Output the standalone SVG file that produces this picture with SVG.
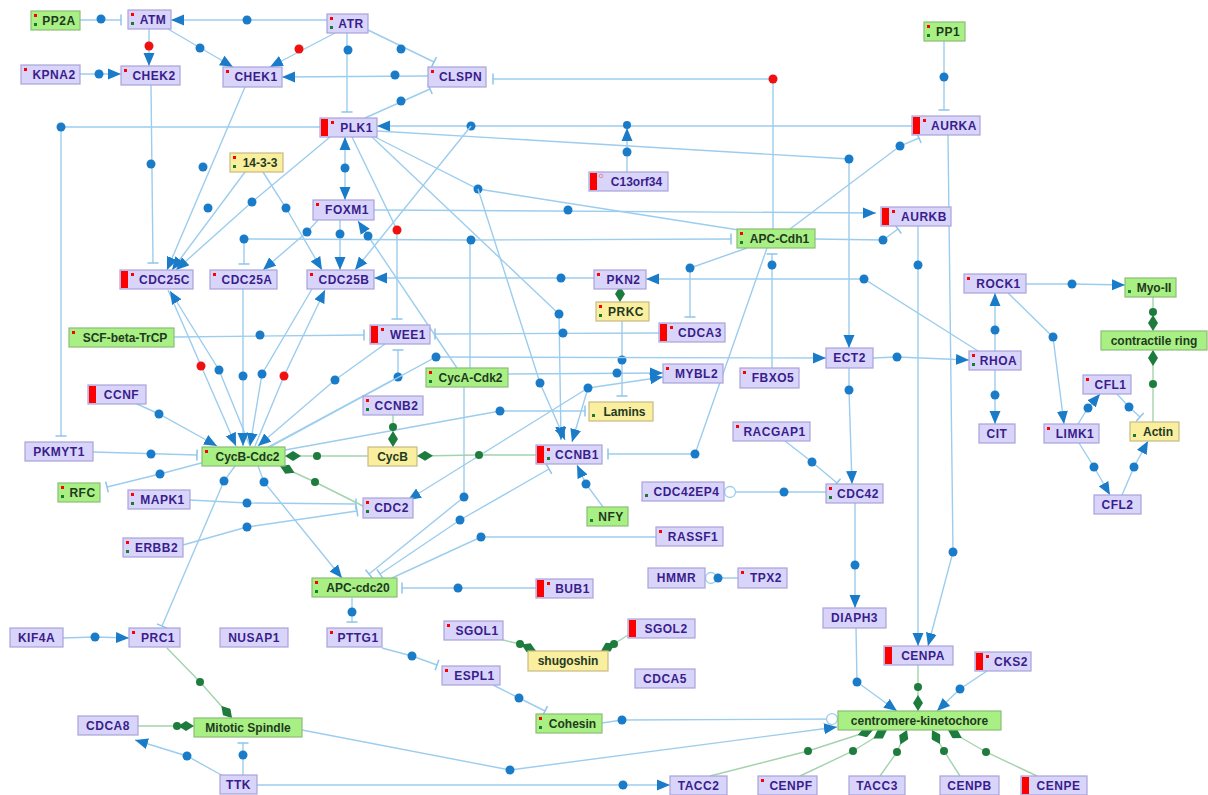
<svg xmlns="http://www.w3.org/2000/svg" width="1208" height="795" viewBox="0 0 1208 795">
<style>
text{font-family:"Liberation Sans",Arial,sans-serif;font-weight:bold;font-size:12px;text-anchor:middle}
text.u{letter-spacing:0.5px}
.p rect.b{fill:#d9d5fa;stroke:#a9a2db;stroke-width:1.2}
.g rect.b{fill:#a8ef84;stroke:#8cbd78;stroke-width:1.2}
.y rect.b{fill:#faee9f;stroke:#c6ba86;stroke-width:1.2}
.p text{fill:#3a1d8c}
.g text,.y text{fill:#1f3a1f}
.bar{fill:#f00}
.mr{fill:#f00}
.mg{fill:#1a7a30}
.e{fill:none;stroke:#9ccdee;stroke-width:1.4}
.ge{fill:none;stroke:#a3d3ad;stroke-width:1.4}
.d{fill:#1a7cc9}
.rd{fill:#f01010}
.gd{fill:#1e7d3c}
</style>
<defs>
<marker id="a" viewBox="0 -6 13 12" refX="13" refY="0" markerWidth="13" markerHeight="12" markerUnits="userSpaceOnUse" orient="auto-start-reverse"><path d="M0,-5.5 L13,0 L0,5.5 z" fill="#1a7cc9"/></marker>
<marker id="t" viewBox="-2 -6 4 12" refX="0" refY="0" markerWidth="4" markerHeight="12" markerUnits="userSpaceOnUse" orient="auto"><path d="M0,-5.5 V5.5" stroke="#8cc4ea" stroke-width="1.5"/></marker>
<marker id="dm" viewBox="0 -5 16 10" refX="16" refY="0" markerWidth="16" markerHeight="10" markerUnits="userSpaceOnUse" orient="auto"><path d="M0,0 L8,-5 L16,0 L8,5 z" fill="#1e7b3e"/></marker>
<marker id="oc" viewBox="-13 -7 14 14" refX="0" refY="0" markerWidth="14" markerHeight="14" markerUnits="userSpaceOnUse" orient="auto"><circle cx="-6" cy="0" r="5.5" fill="#fff" stroke="#9ccdee" stroke-width="1.3"/></marker>
</defs>
<rect width="1208" height="795" fill="#fff"/>

<g id="connectors">
<path class="e" d="M80,20 L121,20" marker-end="url(#t)"/><circle class="d" cx="101" cy="19" r="4.5"/>
<path class="e" d="M327,20 L171,20" marker-end="url(#a)"/><circle class="d" cx="247" cy="20" r="4.5"/>
<path class="e" d="M149,29 L149,66" marker-end="url(#a)"/><circle class="rd" cx="149" cy="46" r="4.5"/>
<path class="e" d="M80,74 L121,74" marker-end="url(#a)"/><circle class="d" cx="99" cy="74" r="4.5"/>
<path class="e" d="M168,29 L233,67" marker-end="url(#a)"/><circle class="d" cx="200" cy="48" r="4.5"/>
<path class="e" d="M335,33 L270,67" marker-end="url(#a)"/><circle class="rd" cx="299" cy="49" r="4.5"/>
<path class="e" d="M428,76 L282,77" marker-end="url(#a)"/><circle class="d" cx="395" cy="75" r="4.5"/>
<path class="e" d="M347,33 L347,112" marker-end="url(#t)"/><circle class="d" cx="348" cy="50" r="4.5"/>
<path class="e" d="M368,30 L434,62" marker-end="url(#t)"/><circle class="d" cx="401" cy="49" r="4.5"/>
<path class="e" d="M365,118 L430,89" marker-end="url(#t)"/><circle class="d" cx="401" cy="101" r="4.5"/>
<path class="e" d="M773,229 L773,79 L493,79" marker-end="url(#t)"/><circle class="rd" cx="773" cy="79" r="4.5"/>
<path class="e" d="M912,126 L377,126" marker-end="url(#a)"/><circle class="d" cx="471" cy="126" r="4.5"/>
<path class="e" d="M627,172 L627,128" marker-end="url(#a)"/><circle class="d" cx="627" cy="152" r="4.5"/><circle class="d" cx="627" cy="125" r="4"/>
<path class="e" d="M377,131 L849,159 L849,348" marker-end="url(#a)"/><circle class="d" cx="849" cy="159" r="4.5"/>
<path class="e" d="M320,127 L61,127 L61,436" marker-end="url(#t)"/><circle class="d" cx="61" cy="127" r="4.5"/>
<path class="e" d="M345,137 L345,200" marker-start="url(#a)" marker-end="url(#a)"/><circle class="d" cx="345" cy="168" r="4.5"/>
<path class="e" d="M151,85 L153,263" marker-end="url(#t)"/><circle class="d" cx="151" cy="164" r="4.5"/>
<path class="e" d="M245,87 L167,270" marker-end="url(#a)"/><circle class="d" cx="203" cy="167" r="4.5"/>
<path class="e" d="M245,172 L172,270" marker-end="url(#a)"/><circle class="d" cx="208" cy="208" r="4.5"/>
<path class="e" d="M330,137 L252,202 L176,270" marker-end="url(#a)"/><circle class="d" cx="252" cy="202" r="4.5"/>
<path class="e" d="M263,172 L286,208 L322,270" marker-end="url(#a)"/><circle class="d" cx="286" cy="208" r="4.5"/>
<path class="e" d="M318,220 L307,232 L263,270" marker-end="url(#a)"/><circle class="d" cx="307" cy="232" r="4.5"/>
<path class="e" d="M340,220 L340,270" marker-end="url(#a)"/><circle class="d" cx="340" cy="234" r="4.5"/>
<path class="e" d="M471,126 L355,270" marker-end="url(#a)"/>
<path class="e" d="M471,240 L244,239 L244,264" marker-end="url(#t)"/><circle class="d" cx="244" cy="239" r="4.5"/>
<path class="e" d="M470,368 L470,240 L731,239" marker-end="url(#t)"/><circle class="d" cx="471" cy="240" r="4.5"/>
<path class="e" d="M457,368 L358,221" marker-end="url(#a)"/><circle class="d" cx="368" cy="236" r="4.5"/>
<path class="e" d="M352,137 L397,230 L397,319" marker-end="url(#t)"/><circle class="rd" cx="397" cy="230" r="4.5"/>
<path class="e" d="M372,137 L559,314 L561,440" marker-end="url(#a)"/><circle class="d" cx="559" cy="314" r="4.5"/>
<path class="e" d="M375,137 L478,189 L745,231"/><circle class="d" cx="478" cy="189" r="4.5"/>
<path class="e" d="M478,189 L540,383 L565,440" marker-end="url(#a)"/><circle class="d" cx="540" cy="383" r="4.5"/>
<path class="e" d="M374,210 L876,213" marker-end="url(#a)"/><circle class="d" cx="568" cy="210" r="4.5"/>
<path class="e" d="M815,239 L883,240 L898,229" marker-end="url(#t)"/><circle class="d" cx="883" cy="240" r="4.5"/>
<path class="e" d="M790,229 L900,146 L919,138" marker-end="url(#t)"/><circle class="d" cx="900" cy="146" r="4.5"/>
<path class="e" d="M944,41 L944,110" marker-end="url(#t)"/><circle class="d" cx="944" cy="77" r="4.5"/>
<path class="e" d="M948,135 L953,552 L928,646" marker-end="url(#a)"/><circle class="d" cx="953" cy="552" r="4.5"/>
<path class="e" d="M918,226 L918,646" marker-end="url(#a)"/><circle class="d" cx="918" cy="265" r="4.5"/>
<path class="e" d="M747,248 L690,268 L690,317" marker-end="url(#t)"/><circle class="d" cx="690" cy="268" r="4.5"/>
<path class="e" d="M772,368 L772,254" marker-end="url(#t)"/><circle class="d" cx="772" cy="265" r="4.5"/>
<path class="e" d="M767,248 L695,454 L608,454" marker-end="url(#t)"/><circle class="d" cx="695" cy="454" r="4.5"/>
<path class="e" d="M594,278 L374,278" marker-end="url(#a)"/><circle class="d" cx="561" cy="278" r="4.5"/>
<path class="e" d="M978,351 L864,279 L646,279" marker-end="url(#a)"/><circle class="d" cx="864" cy="279" r="4.5"/>
<path class="e" d="M622,320 L622,396" marker-end="url(#t)"/><circle class="d" cx="622" cy="360" r="4.5"/>
<path class="e" d="M174,337 L364,335" marker-end="url(#t)"/><circle class="d" cx="260" cy="335" r="4.5"/>
<path class="e" d="M659,333 L435,334" marker-end="url(#t)"/><circle class="d" cx="563" cy="333" r="4.5"/>
<path class="e" d="M385,344 L335,380 L258,446" marker-end="url(#a)"/><circle class="d" cx="335" cy="380" r="4.5"/>
<path class="e" d="M268,447 L398,377 L398,350" marker-end="url(#t)"/><circle class="d" cx="398" cy="377" r="4.5"/>
<path class="e" d="M168,290 L236,446" marker-end="url(#a)"/><circle class="rd" cx="201" cy="366" r="4.5"/>
<path class="e" d="M250,446 L219,370 L170,291" marker-end="url(#a)"/><circle class="d" cx="219" cy="370" r="4.5"/>
<path class="e" d="M243,289 L243,446" marker-end="url(#a)"/><circle class="d" cx="243" cy="376" r="4.5"/>
<path class="e" d="M255,446 L284,376 L325,290" marker-end="url(#a)"/><circle class="rd" cx="284" cy="376" r="4.5"/>
<path class="e" d="M312,289 L262,374 L250,446" marker-end="url(#a)"/><circle class="d" cx="262" cy="374" r="4.5"/>
<path class="e" d="M135,403 L159,414 L217,446" marker-end="url(#a)"/><circle class="d" cx="159" cy="414" r="4.5"/>
<path class="e" d="M93,452 L197,455" marker-end="url(#t)"/><circle class="d" cx="151" cy="454" r="4.5"/>
<path class="e" d="M205,462 L160,474 L107,487" marker-end="url(#t)"/><circle class="d" cx="160" cy="474" r="4.5"/>
<path class="e" d="M190,500 L247,503 L356,504" marker-end="url(#t)"/><circle class="d" cx="247" cy="503" r="4.5"/>
<path class="e" d="M183,545 L247,527 L357,511" marker-end="url(#t)"/><circle class="d" cx="247" cy="527" r="4.5"/>
<path class="e" d="M270,447 L436,357 L826,358" marker-end="url(#a)"/><circle class="d" cx="436" cy="357" r="4.5"/>
<path class="e" d="M285,450 L500,411 L585,411" marker-end="url(#t)"/><circle class="d" cx="500" cy="411" r="4.5"/>
<path class="e" d="M508,374 L663,373" marker-end="url(#a)"/><circle class="d" cx="617" cy="373" r="4.5"/>
<path class="e" d="M588,388 L663,377" marker-end="url(#a)"/>
<path class="e" d="M588,388 L408,500" marker-end="url(#a)"/>
<path class="e" d="M588,388 L572,442" marker-end="url(#a)"/><circle class="d" cx="588" cy="388" r="4.5"/>
<path class="e" d="M464,387 L464,497 L369,574" marker-end="url(#t)"/><circle class="d" cx="464" cy="497" r="4.5"/>
<path class="e" d="M549,469 L460,520 L380,574" marker-start="url(#t)" marker-end="url(#t)"/><circle class="d" cx="460" cy="520" r="4.5"/>
<path class="e" d="M656,537 L481,537 L392,578"/><circle class="d" cx="481" cy="537" r="4.5"/>
<path class="e" d="M258,466 L264,482 L342,578" marker-end="url(#a)"/><circle class="d" cx="264" cy="482" r="4.5"/>
<path class="e" d="M235,466 L224,481 L162,626" marker-end="url(#t)"/><circle class="d" cx="224" cy="481" r="4.5"/>
<path class="e" d="M603,507 L586,484 L577,465" marker-end="url(#a)"/><circle class="d" cx="586" cy="484" r="4.5"/>
<path class="e" d="M536,588 L402,588" marker-end="url(#t)"/><circle class="d" cx="458" cy="588" r="4.5"/>
<path class="e" d="M352,598 L352,622" marker-end="url(#t)"/><circle class="d" cx="352" cy="612" r="4.5"/>
<path class="e" d="M382,648 L412,656 L437,665" marker-end="url(#t)"/><circle class="d" cx="412" cy="656" r="4.5"/>
<path class="e" d="M493,685 L519,698 L545,711" marker-end="url(#t)"/><circle class="d" cx="519" cy="698" r="4.5"/>
<path class="e" d="M602,723 L622,720 L838,719" marker-end="url(#oc)"/><circle class="d" cx="622" cy="720" r="4.5"/>
<path class="e" d="M302,730 L510,770 L837,727" marker-end="url(#a)"/><circle class="d" cx="510" cy="770" r="4.5"/>
<path class="e" d="M257,785 L670,785" marker-end="url(#a)"/><circle class="d" cx="623" cy="785" r="4.5"/>
<path class="e" d="M225,777 L187,756 L135,740" marker-end="url(#a)"/><circle class="d" cx="187" cy="756" r="4.5"/>
<path class="e" d="M243,775 L243,743" marker-end="url(#t)"/><circle class="d" cx="243" cy="755" r="4.5"/>
<path class="e" d="M63,638 L95,637 L129,638" marker-end="url(#a)"/><circle class="d" cx="95" cy="637" r="4.5"/>
<path class="e" d="M738,578 L705,578" marker-end="url(#oc)"/><circle class="d" cx="718" cy="578" r="4.5"/>
<path class="e" d="M826,492 L724,492" marker-end="url(#oc)"/><circle class="d" cx="784" cy="492" r="4.5"/>
<path class="e" d="M785,441 L812,462 L837,483" marker-end="url(#t)"/><circle class="d" cx="812" cy="462" r="4.5"/>
<path class="e" d="M849,368 L849,390 L852,484" marker-end="url(#a)"/><circle class="d" cx="849" cy="390" r="4.5"/>
<path class="e" d="M873,358 L897,357 L969,360" marker-end="url(#a)"/><circle class="d" cx="897" cy="357" r="4.5"/>
<path class="e" d="M855,503 L855,608" marker-end="url(#a)"/><circle class="d" cx="855" cy="565" r="4.5"/>
<path class="e" d="M856,628 L857,682 L897,711" marker-end="url(#a)"/><circle class="d" cx="857" cy="682" r="4.5"/>
<path class="e" d="M987,671 L960,689 L937,711" marker-end="url(#a)"/><circle class="d" cx="960" cy="689" r="4.5"/>
<path class="e" d="M995,351 L995,293" marker-end="url(#a)"/><circle class="d" cx="995" cy="330" r="4.5"/>
<path class="e" d="M995,370 L995,424" marker-end="url(#a)"/><circle class="d" cx="995" cy="395" r="4.5"/>
<path class="e" d="M1026,284 L1072,284 L1125,285" marker-end="url(#a)"/><circle class="d" cx="1072" cy="284" r="4.5"/>
<path class="e" d="M1008,293 L1053,337 L1064,424" marker-end="url(#a)"/><circle class="d" cx="1053" cy="337" r="4.5"/>
<path class="e" d="M1078,424 L1088,408 L1100,394" marker-end="url(#a)"/><circle class="d" cx="1088" cy="408" r="4.5"/>
<path class="e" d="M1079,443 L1094,467 L1110,495" marker-end="url(#a)"/><circle class="d" cx="1094" cy="467" r="4.5"/>
<path class="e" d="M1122,495 L1134,467 L1148,441" marker-end="url(#a)"/><circle class="d" cx="1134" cy="467" r="4.5"/>
<path class="e" d="M1117,394 L1129,407 L1140,417" marker-end="url(#t)"/><circle class="d" cx="1129" cy="407" r="4.5"/>
<path class="ge" d="M620,288 L620,302" marker-end="url(#dm)"/>
<path class="ge" d="M368,456 L285,456" marker-end="url(#dm)"/><circle class="gd" cx="317" cy="456" r="4"/>
<path class="ge" d="M363,506 L315,482 L280,466" marker-end="url(#dm)"/><circle class="gd" cx="315" cy="482" r="4"/>
<path class="ge" d="M536,455 L479,455 L417,456" marker-end="url(#dm)"/><circle class="gd" cx="479" cy="455" r="4"/>
<path class="ge" d="M393,415 L393,447" marker-end="url(#dm)"/><circle class="gd" cx="393" cy="427" r="4"/>
<path class="ge" d="M503,640 L520,644 L536,651" marker-end="url(#dm)"/><circle class="gd" cx="520" cy="644" r="4"/>
<path class="ge" d="M628,635 L614,644 L601,651" marker-end="url(#dm)"/><circle class="gd" cx="614" cy="644" r="4"/>
<path class="ge" d="M138,726 L194,726" marker-end="url(#dm)"/><circle class="gd" cx="177" cy="726" r="4"/>
<path class="ge" d="M167,648 L200,682 L232,718" marker-end="url(#dm)"/><circle class="gd" cx="200" cy="682" r="4"/>
<path class="ge" d="M918,664 L918,711" marker-end="url(#dm)"/><circle class="gd" cx="918" cy="687" r="4"/>
<path class="ge" d="M710,776 L808,751 L873,730" marker-end="url(#dm)"/><circle class="gd" cx="808" cy="751" r="4"/>
<path class="ge" d="M800,776 L853,751 L887,730" marker-end="url(#dm)"/><circle class="gd" cx="853" cy="751" r="4"/>
<path class="ge" d="M880,776 L897,752 L907,730" marker-end="url(#dm)"/><circle class="gd" cx="897" cy="752" r="4"/>
<path class="ge" d="M960,776 L944,751 L932,730" marker-end="url(#dm)"/><circle class="gd" cx="944" cy="751" r="4"/>
<path class="ge" d="M1037,776 L986,752 L948,730" marker-end="url(#dm)"/><circle class="gd" cx="986" cy="752" r="4"/>
<path class="ge" d="M1153,422 L1153,350" marker-end="url(#dm)"/><circle class="gd" cx="1153" cy="384" r="4"/>
<path class="ge" d="M1153,297 L1153,331" marker-end="url(#dm)"/><circle class="gd" cx="1153" cy="312" r="4"/>
</g>

<g id="PP2A" class="g"><rect class="b" x="31" y="11" width="49" height="19"/><rect class="mr" x="34" y="14" width="3" height="3"/><rect class="mg" x="34" y="23" width="3" height="3"/><text class="u" x="59" y="24.5">PP2A</text></g>
<g id="ATM" class="p"><rect class="b" x="128" y="10" width="43" height="19"/><rect class="mr" x="131" y="13" width="3" height="3"/><rect class="mg" x="131" y="22" width="3" height="3"/><text class="u" x="153" y="23.5">ATM</text></g>
<g id="ATR" class="p"><rect class="b" x="327" y="14" width="41" height="19"/><rect class="mr" x="330" y="17" width="3" height="3"/><rect class="mg" x="330" y="26" width="3" height="3"/><text class="u" x="351" y="27.5">ATR</text></g>
<g id="KPNA2" class="p"><rect class="b" x="21" y="65" width="59" height="19"/><rect class="mr" x="24" y="68" width="3" height="3"/><text class="u" x="54" y="78.5">KPNA2</text></g>
<g id="CHEK2" class="p"><rect class="b" x="121" y="66" width="59" height="19"/><rect class="mr" x="124" y="69" width="3" height="3"/><text class="u" x="154" y="79.5">CHEK2</text></g>
<g id="CHEK1" class="p"><rect class="b" x="223" y="67" width="59" height="20"/><rect class="mr" x="226" y="70" width="3" height="3"/><text class="u" x="256" y="81">CHEK1</text></g>
<g id="CLSPN" class="p"><rect class="b" x="428" y="67" width="58" height="20"/><rect class="mr" x="431" y="70" width="3" height="3"/><text class="u" x="460.5" y="81">CLSPN</text></g>
<g id="PP1" class="g"><rect class="b" x="924" y="22" width="41" height="19"/><rect class="mr" x="927" y="25" width="3" height="3"/><rect class="mg" x="927" y="34" width="3" height="3"/><text class="u" x="948" y="35.5">PP1</text></g>
<g id="PLK1" class="p"><rect class="b" x="320" y="118" width="57" height="19"/><rect class="bar" x="321" y="119" width="7" height="17"/><rect class="mr" x="331" y="121" width="3" height="3"/><text class="u" x="356.5" y="131.5">PLK1</text></g>
<g id="AURKA" class="p"><rect class="b" x="912" y="116" width="68" height="19"/><rect class="bar" x="913" y="117" width="7" height="17"/><rect class="mr" x="923" y="119" width="3" height="3"/><text class="u" x="954" y="129.5">AURKA</text></g>
<g id="n14-3-3" class="y"><rect class="b" x="230" y="153" width="53" height="19"/><rect class="mr" x="233" y="156" width="3" height="3"/><rect class="mg" x="233" y="165" width="3" height="3"/><text x="260" y="166.5">14-3-3</text></g>
<g id="C13orf34" class="p"><rect class="b" x="589" y="172" width="79" height="19"/><rect class="bar" x="590" y="173" width="7" height="17"/><circle cx="601" cy="176" r="1.8" fill="none" stroke="#f08080" stroke-width="0.9"/><text x="636.5" y="185.5">C13orf34</text></g>
<g id="FOXM1" class="p"><rect class="b" x="313" y="200" width="61" height="20"/><rect class="mr" x="316" y="203" width="3" height="3"/><text class="u" x="347" y="214">FOXM1</text></g>
<g id="AURKB" class="p"><rect class="b" x="881" y="207" width="70" height="19"/><rect class="bar" x="882" y="208" width="7" height="17"/><rect class="mr" x="892" y="210" width="3" height="3"/><text class="u" x="924" y="220.5">AURKB</text></g>
<g id="APC-Cdh1" class="g"><rect class="b" x="737" y="229" width="78" height="19"/><rect class="mr" x="740" y="232" width="3" height="3"/><rect class="mg" x="740" y="241" width="3" height="3"/><text x="779.5" y="242.5">APC-Cdh1</text></g>
<g id="CDC25C" class="p"><rect class="b" x="120" y="270" width="73" height="19"/><rect class="bar" x="121" y="271" width="7" height="17"/><rect class="mr" x="131" y="273" width="3" height="3"/><text class="u" x="164.5" y="283.5">CDC25C</text></g>
<g id="CDC25A" class="p"><rect class="b" x="210" y="270" width="67" height="19"/><rect class="mr" x="213" y="273" width="3" height="3"/><text class="u" x="247" y="283.5">CDC25A</text></g>
<g id="CDC25B" class="p"><rect class="b" x="307" y="270" width="67" height="19"/><rect class="mr" x="310" y="273" width="3" height="3"/><text class="u" x="344" y="283.5">CDC25B</text></g>
<g id="PKN2" class="p"><rect class="b" x="594" y="270" width="52" height="19"/><rect class="mr" x="597" y="273" width="3" height="3"/><text class="u" x="623.5" y="283.5">PKN2</text></g>
<g id="ROCK1" class="p"><rect class="b" x="964" y="274" width="62" height="19"/><rect class="mr" x="967" y="277" width="3" height="3"/><text class="u" x="998.5" y="287.5">ROCK1</text></g>
<g id="Myo-II" class="g"><rect class="b" x="1125" y="278" width="51" height="19"/><rect class="mg" x="1128" y="290" width="3" height="3"/><text x="1154" y="291.5">Myo-II</text></g>
<g id="PRKC" class="y"><rect class="b" x="596" y="302" width="53" height="19"/><rect class="mr" x="599" y="305" width="3" height="3"/><rect class="mg" x="599" y="314" width="3" height="3"/><text class="u" x="626" y="315.5">PRKC</text></g>
<g id="CDCA3" class="p"><rect class="b" x="659" y="323" width="66" height="19"/><rect class="bar" x="660" y="324" width="7" height="17"/><rect class="mr" x="670" y="326" width="3" height="3"/><text class="u" x="700" y="336.5">CDCA3</text></g>
<g id="SCF-beta-TrCP" class="g"><rect class="b" x="69" y="328" width="105" height="19"/><rect class="mr" x="72" y="331" width="3" height="3"/><text x="125" y="341.5">SCF-beta-TrCP</text></g>
<g id="WEE1" class="p"><rect class="b" x="370" y="325" width="60" height="19"/><rect class="bar" x="371" y="326" width="7" height="17"/><rect class="mr" x="381" y="328" width="3" height="3"/><text class="u" x="408" y="338.5">WEE1</text></g>
<g id="contractile-ring" class="g"><rect class="b" x="1101" y="331" width="106" height="19"/><text x="1154" y="344.5">contractile ring</text></g>
<g id="ECT2" class="p"><rect class="b" x="826" y="348" width="47" height="20"/><text class="u" x="849.5" y="362">ECT2</text></g>
<g id="RHOA" class="p"><rect class="b" x="969" y="351" width="52" height="19"/><rect class="mr" x="972" y="354" width="3" height="3"/><rect class="mg" x="972" y="363" width="3" height="3"/><text class="u" x="998.5" y="364.5">RHOA</text></g>
<g id="CycA-Cdk2" class="g"><rect class="b" x="426" y="368" width="82" height="19"/><rect class="mr" x="429" y="371" width="3" height="3"/><rect class="mg" x="429" y="380" width="3" height="3"/><text x="470.5" y="381.5">CycA-Cdk2</text></g>
<g id="MYBL2" class="p"><rect class="b" x="663" y="364" width="60" height="19"/><rect class="mr" x="666" y="367" width="3" height="3"/><text class="u" x="696.5" y="377.5">MYBL2</text></g>
<g id="FBXO5" class="p"><rect class="b" x="740" y="368" width="59" height="20"/><rect class="mr" x="743" y="371" width="3" height="3"/><text class="u" x="773" y="382">FBXO5</text></g>
<g id="CCNF" class="p"><rect class="b" x="88" y="385" width="58" height="19"/><rect class="bar" x="89" y="386" width="7" height="17"/><text class="u" x="121.5" y="398.5">CCNF</text></g>
<g id="CFL1" class="p"><rect class="b" x="1083" y="375" width="48" height="19"/><rect class="mr" x="1086" y="378" width="3" height="3"/><text class="u" x="1110.5" y="388.5">CFL1</text></g>
<g id="CCNB2" class="p"><rect class="b" x="363" y="396" width="60" height="19"/><rect class="mr" x="366" y="399" width="3" height="3"/><rect class="mg" x="366" y="408" width="3" height="3"/><text class="u" x="396.5" y="409.5">CCNB2</text></g>
<g id="Lamins" class="y"><rect class="b" x="589" y="402" width="64" height="19"/><rect class="mg" x="592" y="414" width="3" height="3"/><text x="624.5" y="415.5">Lamins</text></g>
<g id="RACGAP1" class="p"><rect class="b" x="733" y="422" width="77" height="19"/><rect class="mr" x="736" y="425" width="3" height="3"/><text class="u" x="774.5" y="435.5">RACGAP1</text></g>
<g id="CIT" class="p"><rect class="b" x="979" y="424" width="36" height="19"/><text class="u" x="997" y="437.5">CIT</text></g>
<g id="LIMK1" class="p"><rect class="b" x="1044" y="424" width="55" height="19"/><rect class="mr" x="1047" y="427" width="3" height="3"/><text class="u" x="1075" y="437.5">LIMK1</text></g>
<g id="Actin" class="y"><rect class="b" x="1130" y="422" width="49" height="19"/><rect class="mg" x="1133" y="434" width="3" height="3"/><text x="1158" y="435.5">Actin</text></g>
<g id="PKMYT1" class="p"><rect class="b" x="25" y="442" width="68" height="19"/><text class="u" x="59" y="455.5">PKMYT1</text></g>
<g id="CycB-Cdc2" class="g"><rect class="b" x="202" y="447" width="83" height="19"/><rect class="mr" x="205" y="450" width="3" height="3"/><text x="247.5" y="460.5">CycB-Cdc2</text></g>
<g id="CycB" class="y"><rect class="b" x="368" y="447" width="49" height="19"/><text x="392.5" y="460.5">CycB</text></g>
<g id="CCNB1" class="p"><rect class="b" x="536" y="445" width="66" height="19"/><rect class="bar" x="537" y="446" width="7" height="17"/><rect class="mr" x="547" y="448" width="3" height="3"/><rect class="mg" x="547" y="457" width="3" height="3"/><text class="u" x="577" y="458.5">CCNB1</text></g>
<g id="RFC" class="g"><rect class="b" x="58" y="483" width="42" height="19"/><rect class="mr" x="61" y="486" width="3" height="3"/><rect class="mg" x="61" y="495" width="3" height="3"/><text class="u" x="82.5" y="496.5">RFC</text></g>
<g id="MAPK1" class="p"><rect class="b" x="128" y="490" width="62" height="19"/><rect class="mr" x="131" y="493" width="3" height="3"/><rect class="mg" x="131" y="502" width="3" height="3"/><text class="u" x="162.5" y="503.5">MAPK1</text></g>
<g id="CDC2" class="p"><rect class="b" x="363" y="498" width="50" height="20"/><rect class="mr" x="366" y="501" width="3" height="3"/><rect class="mg" x="366" y="510" width="3" height="3"/><text class="u" x="391.5" y="512">CDC2</text></g>
<g id="CDC42EP4" class="p"><rect class="b" x="642" y="482" width="82" height="19"/><rect class="mg" x="645" y="494" width="3" height="3"/><text class="u" x="686.5" y="495.5">CDC42EP4</text></g>
<g id="CDC42" class="p"><rect class="b" x="826" y="484" width="57" height="19"/><rect class="mr" x="829" y="487" width="3" height="3"/><rect class="mg" x="829" y="496" width="3" height="3"/><text class="u" x="858" y="497.5">CDC42</text></g>
<g id="CFL2" class="p"><rect class="b" x="1094" y="495" width="47" height="19"/><text class="u" x="1117.5" y="508.5">CFL2</text></g>
<g id="NFY" class="g"><rect class="b" x="587" y="507" width="41" height="19"/><rect class="mg" x="590" y="519" width="3" height="3"/><text class="u" x="611" y="520.5">NFY</text></g>
<g id="ERBB2" class="p"><rect class="b" x="123" y="538" width="60" height="19"/><rect class="mr" x="126" y="541" width="3" height="3"/><rect class="mg" x="126" y="550" width="3" height="3"/><text class="u" x="156.5" y="551.5">ERBB2</text></g>
<g id="RASSF1" class="p"><rect class="b" x="656" y="527" width="67" height="19"/><rect class="mr" x="659" y="530" width="3" height="3"/><text class="u" x="693" y="540.5">RASSF1</text></g>
<g id="APC-cdc20" class="g"><rect class="b" x="312" y="578" width="85" height="19"/><rect class="mr" x="315" y="581" width="3" height="3"/><rect class="mg" x="315" y="590" width="3" height="3"/><text x="358" y="591.5">APC-cdc20</text></g>
<g id="BUB1" class="p"><rect class="b" x="536" y="579" width="57" height="19"/><rect class="bar" x="537" y="580" width="7" height="17"/><rect class="mr" x="547" y="582" width="3" height="3"/><text class="u" x="572.5" y="592.5">BUB1</text></g>
<g id="HMMR" class="p"><rect class="b" x="648" y="568" width="57" height="20"/><text class="u" x="676.5" y="582">HMMR</text></g>
<g id="TPX2" class="p"><rect class="b" x="738" y="568" width="49" height="20"/><rect class="mr" x="741" y="571" width="3" height="3"/><text class="u" x="766" y="582">TPX2</text></g>
<g id="DIAPH3" class="p"><rect class="b" x="823" y="608" width="63" height="20"/><text class="u" x="854.5" y="622">DIAPH3</text></g>
<g id="KIF4A" class="p"><rect class="b" x="10" y="628" width="53" height="19"/><text class="u" x="36.5" y="641.5">KIF4A</text></g>
<g id="PRC1" class="p"><rect class="b" x="129" y="628" width="51" height="19"/><rect class="mr" x="132" y="631" width="3" height="3"/><text class="u" x="158" y="641.5">PRC1</text></g>
<g id="NUSAP1" class="p"><rect class="b" x="220" y="628" width="68" height="19"/><text class="u" x="254" y="641.5">NUSAP1</text></g>
<g id="PTTG1" class="p"><rect class="b" x="327" y="628" width="55" height="19"/><rect class="mr" x="330" y="631" width="3" height="3"/><text class="u" x="358" y="641.5">PTTG1</text></g>
<g id="SGOL1" class="p"><rect class="b" x="444" y="621" width="59" height="19"/><rect class="mr" x="447" y="624" width="3" height="3"/><text class="u" x="477" y="634.5">SGOL1</text></g>
<g id="SGOL2" class="p"><rect class="b" x="628" y="619" width="67" height="19"/><rect class="bar" x="629" y="620" width="7" height="17"/><text class="u" x="666" y="632.5">SGOL2</text></g>
<g id="CENPA" class="p"><rect class="b" x="884" y="646" width="69" height="19"/><rect class="bar" x="885" y="647" width="7" height="17"/><text class="u" x="923" y="659.5">CENPA</text></g>
<g id="CKS2" class="p"><rect class="b" x="975" y="652" width="56" height="19"/><rect class="bar" x="976" y="653" width="7" height="17"/><rect class="mr" x="986" y="655" width="3" height="3"/><text class="u" x="1011" y="665.5">CKS2</text></g>
<g id="shugoshin" class="y"><rect class="b" x="528" y="651" width="80" height="20"/><text x="568" y="665">shugoshin</text></g>
<g id="ESPL1" class="p"><rect class="b" x="442" y="666" width="58" height="19"/><rect class="mr" x="445" y="669" width="3" height="3"/><text class="u" x="474.5" y="679.5">ESPL1</text></g>
<g id="CDCA5" class="p"><rect class="b" x="635" y="669" width="60" height="19"/><text class="u" x="665" y="682.5">CDCA5</text></g>
<g id="CDCA8" class="p"><rect class="b" x="78" y="716" width="60" height="19"/><text class="u" x="108" y="729.5">CDCA8</text></g>
<g id="Mitotic-Spindle" class="g"><rect class="b" x="194" y="718" width="108" height="19"/><text x="248" y="731.5">Mitotic Spindle</text></g>
<g id="Cohesin" class="g"><rect class="b" x="536" y="714" width="66" height="19"/><rect class="mr" x="539" y="717" width="3" height="3"/><rect class="mg" x="539" y="726" width="3" height="3"/><text x="572.5" y="727.5">Cohesin</text></g>
<g id="centromere-kinetochore" class="g"><rect class="b" x="838" y="711" width="163" height="19"/><text x="919.5" y="724.5">centromere-kinetochore</text></g>
<g id="TTK" class="p"><rect class="b" x="220" y="775" width="37" height="19"/><text class="u" x="238.5" y="788.5">TTK</text></g>
<g id="TACC2" class="p"><rect class="b" x="670" y="776" width="57" height="19"/><text class="u" x="698.5" y="789.5">TACC2</text></g>
<g id="CENPF" class="p"><rect class="b" x="758" y="776" width="59" height="19"/><rect class="mr" x="761" y="779" width="3" height="3"/><text class="u" x="791" y="789.5">CENPF</text></g>
<g id="TACC3" class="p"><rect class="b" x="849" y="776" width="56" height="19"/><text class="u" x="877" y="789.5">TACC3</text></g>
<g id="CENPB" class="p"><rect class="b" x="940" y="776" width="59" height="19"/><text class="u" x="969.5" y="789.5">CENPB</text></g>
<g id="CENPE" class="p"><rect class="b" x="1021" y="776" width="66" height="19"/><rect class="bar" x="1022" y="777" width="7" height="17"/><text class="u" x="1058.5" y="789.5">CENPE</text></g>
</svg>
